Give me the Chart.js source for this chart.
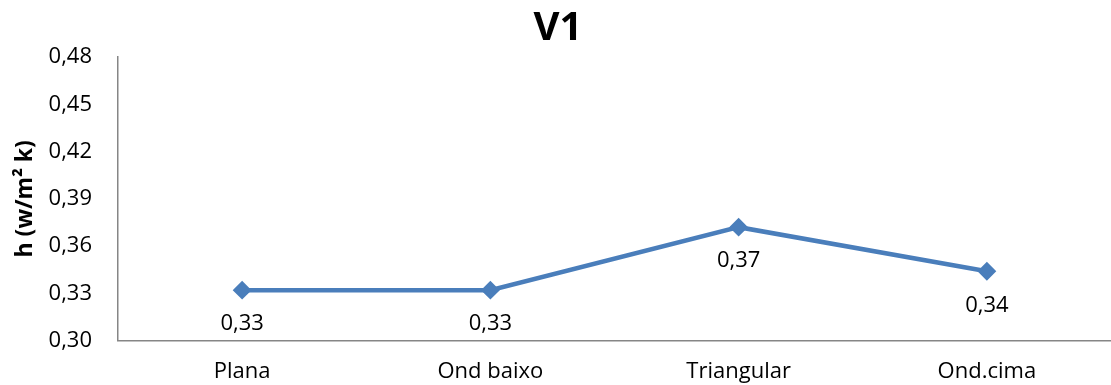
<!DOCTYPE html>
<html lang="pt">
<head>
  <meta charset="UTF-8" />
  <title>V1</title>
  <script src="https://cdn.jsdelivr.net/npm/chart.js"></script>
  <style>
    html, body { margin: 0; padding: 0; background: #fff; overflow: hidden; }
    canvas { display: block; }
  </style>
</head>
<body>
  <canvas id="chart" width="1111" height="385"></canvas>

  <script>
    const categories = ["Plana", "Ond baixo", "Triangular", "Ond.cima"];
    const hValues = [0.332, 0.332, 0.372, 0.344];
    const pointLabels = ["0,33", "0,33", "0,37", "0,34"];
    const yTickLabels = ["0,30", "0,33", "0,36", "0,39", "0,42", "0,45", "0,48"];

    const FONT = "'Open Sans', 'Liberation Sans', sans-serif";

    // draws the value under each marker (like Excel data labels)
    const valueLabels = {
      id: "valueLabels",
      afterDatasetsDraw(chart) {
        const ctx = chart.ctx;
        const meta = chart.getDatasetMeta(0);
        ctx.save();
        ctx.font = "22px " + FONT;
        ctx.fillStyle = "#000";
        ctx.textAlign = "center";
        ctx.textBaseline = "middle";
        meta.data.forEach((pt, i) => {
          ctx.fillText(pointLabels[i], pt.x, pt.y + 34);
        });
        ctx.restore();
      }
    };

    new Chart(document.getElementById("chart"), {
      type: "line",
      data: {
        labels: categories,
        datasets: [{
          label: "V1",
          data: hValues,
          borderColor: "#4A7EBB",
          backgroundColor: "#4A7EBB",
          borderWidth: 4.5,
          pointStyle: "rectRot",
          pointRadius: 8,
          pointBorderWidth: 2,
          tension: 0
        }]
      },
      options: {
        responsive: false,
        animation: false,
        devicePixelRatio: 1,
        layout: { autoPadding: false, padding: { top: 0, left: 0, bottom: 0, right: -5 } },
        plugins: {
          legend: { display: false },
          tooltip: { enabled: false },
          title: {
            display: true,
            text: "V1",
            color: "#000",
            font: { family: FONT, size: 40, weight: "bold" },
            padding: { top: 5, bottom: 4 }
          }
        },
        scales: {
          x: {
            offset: true,
            // invisible tick marks just push the labels down
            grid: { display: true, drawOnChartArea: false, drawTicks: true, tickLength: 18, tickColor: "rgba(0,0,0,0)" },
            border: { display: true, color: "#868686", width: 1.5 },
            ticks: { color: "#000", padding: 0, font: { family: FONT, size: 22 } },
            afterFit(scale) { scale.paddingLeft = 0; scale.paddingRight = 0; }
          },
          y: {
            min: 0.30,
            max: 0.48,
            grid: { display: false, drawTicks: false },
            border: { display: true, color: "#868686", width: 1.5 },
            afterFit(scale) { scale.width = 118; },
            ticks: {
              stepSize: 0.03,
              color: "#000",
              padding: 26,
              font: { family: FONT, size: 22 },
              callback: (v, i) => yTickLabels[i]
            },
            title: {
              display: true,
              text: "h (w/m² k)",
              color: "#000",
              font: { family: FONT, size: 23, weight: "bold" },
              padding: { top: 12, bottom: 0 }
            }
          }
        }
      },
      plugins: [valueLabels]
    });
  </script>
</body>
</html>
